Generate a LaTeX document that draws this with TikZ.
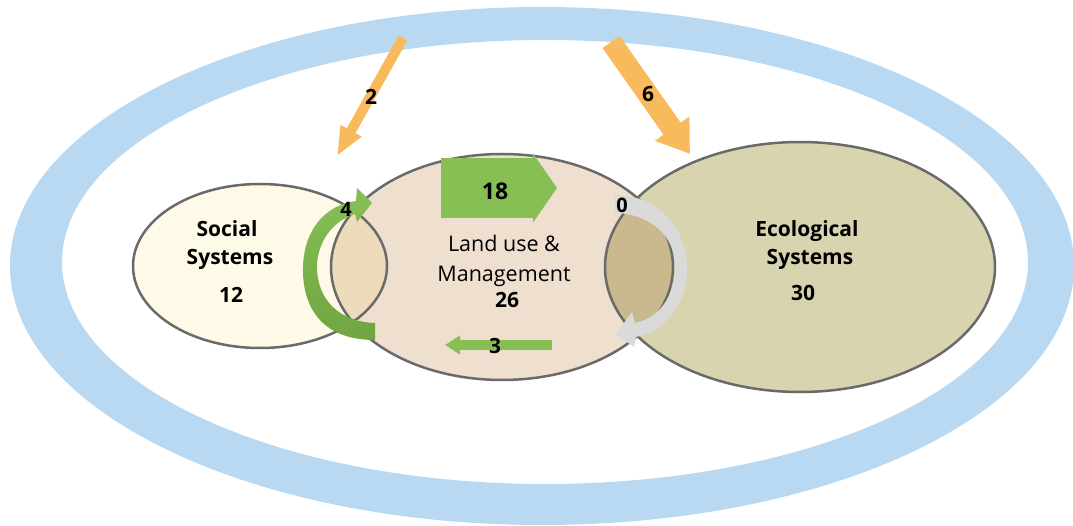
\documentclass[tikz,border=0pt]{standalone}
\usepackage{fontspec}
\setmainfont{Open Sans}
\usetikzlibrary{arrows.meta,shapes.geometric}

\definecolor{ringblue}{HTML}{B9D8F2}
\definecolor{flowor}{HTML}{F9BA5D}
\definecolor{flowgr}{HTML}{88BF55}
\definecolor{flowgrdk}{HTML}{70A542}
\definecolor{flowgy}{HTML}{DADADA}
\definecolor{socfill}{HTML}{FEFAE7}
\definecolor{landfill}{HTML}{EEDFCF}
\definecolor{ecofill}{HTML}{D8D4AF}
\definecolor{lensA}{HTML}{EDDBBB}
\definecolor{lensB}{HTML}{CAB98E}
\definecolor{rimgray}{HTML}{6A6A6A}

\begin{document}
\begin{tikzpicture}[x=1pt,y=-1pt,
  sys/.style={shape=ellipse, inner sep=0pt, outer sep=0pt},
  rim/.style={draw=rimgray, line width=2.5pt},
  title/.style={font=\fontsize{21}{25}\selectfont\bfseries, anchor=base},
  plain/.style={font=\fontsize{21.5}{25}\selectfont, anchor=base},
  num/.style={font=\fontsize{21}{25}\selectfont\bfseries, anchor=base}]
\useasboundingbox (0,0) rectangle (1073,526);

% outer ring
\fill[ringblue, even odd rule] (542,266) ellipse (532 and 259) (545,262) ellipse (483 and 222);

% the three systems
\path (260,266) node (Soc) [sys, fill=socfill, minimum width=254pt, minimum height=164pt] {};
\path (502,267) node (Land) [sys, fill=landfill, minimum width=342pt, minimum height=226pt] {};
\path (800,267) node (Eco) [sys, fill=ecofill, minimum width=390pt, minimum height=250pt] {};

\begin{scope}
\clip (Soc.center) ellipse (127 and 82);
\fill[lensA] (Land.center) ellipse (171 and 113);
\end{scope}
\begin{scope}
\clip (Land.center) ellipse (171 and 113);
\fill[lensB] (Eco.center) ellipse (195 and 125);
\end{scope}

\draw[rim] (Soc.center) ellipse (127 and 82);
\draw[rim] (Land.center) ellipse (171 and 113);
\draw[rim] (Eco.center) ellipse (195 and 125);

\path (227,237) node (SocA) [title] {Social};
\path (230,265) node (SocB) [title] {Systems};
\path (231,303) node (SocN) [num] {12};
\path (504,252) node (LandA) [plain] {Land use \&};
\path (504,282) node (LandB) [plain] {Management};
\path (507,308) node (LandN) [num] {26};
\path (807,237) node (EcoA) [title] {Ecological};
\path (810,265) node (EcoB) [title] {Systems};
\path (803,301) node (EcoN) [num] {30};

% inflows from outside
\coordinate (in2) at (403,38);
\coordinate (to2) at (337,156);
\draw[flowor, line width=10pt, -{Triangle[width=22pt,length=29pt]}] (in2) -- (to2);
\path (371,105) node (n2) [num] {2};

\coordinate (in6) at (611,42);
\coordinate (to6) at (690,154);
\draw[flowor, line width=21pt, -{Triangle[width=40pt,length=31pt]}] (in6) -- (to6);
\path (648,102) node (n6) [num] {6};

% flows between systems
\coordinate (a18) at (441,188);
\coordinate (b18) at (557,188);
\draw[flowgr, line width=60pt, -{Triangle[width=68pt,length=24pt]}] (a18) -- (b18);
\path (495,200) node (n18) [num, font=\fontsize{23}{25}\selectfont\bfseries] {18};

\coordinate (a3) at (552,345);
\coordinate (b3) at (445,345);
\draw[flowgr, line width=10pt, -{Triangle[width=18pt,length=15pt]}] (a3) -- (b3);
\path (495,353) node (n3) [num] {3};

\shade[top color=flowgr, bottom color=flowgrdk] (375,323) -- (375,340)
  .. controls (320,340) and (302,305) .. (303,267)
  .. controls (304,230) and (325,205) .. (356,201)
  -- (357,188) -- (372,203) -- (357,222) -- (355,214)
  .. controls (330,222) and (317,245) .. (317,267)
  .. controls (317,300) and (340,322) .. (375,323) -- cycle;
\path (346,217) node (n4) [num, font=\fontsize{20}{25}\selectfont\bfseries] {4};

\fill[flowgy] (615,195) -- (615,213)
  .. controls (650,214) and (675,235) .. (675,267)
  .. controls (675,295) and (660,318) .. (635,323)
  -- (632,312) -- (616,334) -- (634,347) -- (636,337)
  .. controls (668,330) and (688,300) .. (687,267)
  .. controls (686,225) and (655,195) .. (615,195) -- cycle;
\path (622,213) node (n0) [num, font=\fontsize{20}{25}\selectfont\bfseries] {0};

\end{tikzpicture}
\end{document}
